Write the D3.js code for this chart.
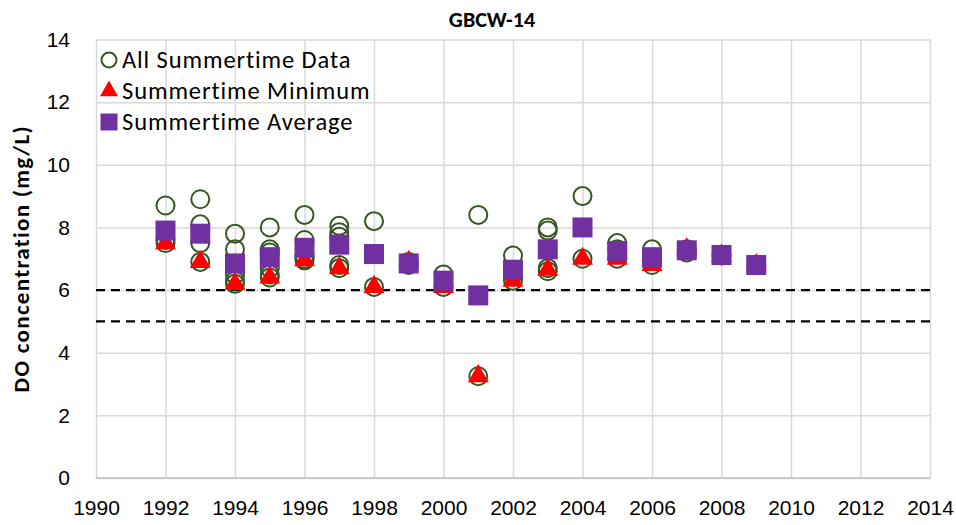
<!DOCTYPE html>
<html>
<head>
<meta charset="utf-8">
<script src="https://cdn.jsdelivr.net/npm/d3@7"></script>
<style>
  body { margin: 0; background: #fff; }
  svg { display: block; font-family: Carlito, Calibri, Lato, sans-serif; }
</style>
</head>
<body>
<svg width="956" height="525"></svg>
<script>
// data
var years = [1992, 1993, 1994, 1995, 1996, 1997, 1998, 1999, 2000, 2001, 2002, 2003, 2004, 2005, 2006, 2007, 2008, 2009];
var allData = [
    [8.7, 7.6, 7.5],
    [8.9, 8.1, 7.5, 6.9],
    [7.8, 7.3, 6.5, 6.3, 6.2],
    [8.0, 7.3, 7.2, 6.7, 6.5, 6.4],
    [8.4, 7.6, 7.1, 7.0, 6.95],
    [8.05, 7.85, 7.7, 6.8, 6.7],
    [8.2, 6.1],
    [6.9, 6.8],
    [6.5, 6.1],
    [8.4, 3.25],
    [7.1, 6.5, 6.3],
    [8.0, 7.9, 6.7, 6.6],
    [9.0, 7.0],
    [7.5, 7.3, 7.0],
    [7.3, 6.8],
    [7.3, 7.2],
    [7.1],
    [6.8]
];
var minValues = [7.5, 6.9, 6.2, 6.4, 6.95, 6.7, 6.1, 6.9, 6.1, 3.25, 6.3, 6.65, 7.0, 7.0, 6.8, 7.3, 7.1, 6.8];
var avgValues = [7.9, 7.8, 6.85, 7.05, 7.35, 7.45, 7.15, 6.85, 6.3, 5.83, 6.65, 7.3, 8.0, 7.25, 7.05, 7.27, 7.12, 6.8];
var xTicks = [1990, 1992, 1994, 1996, 1998, 2000, 2002, 2004, 2006, 2008, 2010, 2012, 2014];
var yTicks = [0, 2, 4, 6, 8, 10, 12, 14];
var refLines = [6, 5];
var seriesNames = ['All Summertime Data', 'Summertime Minimum', 'Summertime Average'];

var svg = d3.select('svg');
var margin = {t: 39.5, l: 96, r: 26, b: 47};
var width = 956 - margin.l - margin.r;
var height = 525 - margin.t - margin.b;

var x = d3.scaleLinear().domain([1990, 2014]).range([0, width]);
var y = d3.scaleLinear().domain([0, 14]).range([height, 0]);

var g = svg.append('g').attr('transform', 'translate(' + margin.l + ',' + margin.t + ')');

// gridlines
g.append('g')
    .call(d3.axisBottom(x).tickValues(xTicks).tickSize(height).tickFormat(''))
    .call(a => a.select('.domain').remove())
    .selectAll('line').attr('stroke', '#d9d9d9').attr('stroke-width', 1.5);
g.append('g')
    .call(d3.axisLeft(y).tickValues(yTicks).tickSize(-width).tickFormat(''))
    .call(a => a.select('.domain').remove())
    .selectAll('line').attr('stroke', '#d9d9d9').attr('stroke-width', 1.5);

// tick labels
g.append('g')
    .attr('transform', 'translate(0,' + height + ')')
    .call(d3.axisBottom(x).tickValues(xTicks).tickSize(0).tickPadding(22).tickFormat(d3.format('d')))
    .call(a => a.select('.domain').remove())
    .selectAll('text').attr('font-size', 21).attr('fill', '#000').attr('font-family', null);
g.append('g')
    .call(d3.axisLeft(y).tickValues(yTicks).tickSize(0).tickPadding(26))
    .call(a => a.select('.domain').remove())
    .selectAll('text').attr('font-size', 21).attr('fill', '#000').attr('font-family', null);

// bottom axis line
g.append('line')
    .attr('x1', 0).attr('x2', width)
    .attr('y1', height).attr('y2', height)
    .attr('stroke', '#bfbfbf').attr('stroke-width', 1.5);

// reference dashed lines
g.selectAll('.ref')
    .data(refLines)
    .enter().append('line')
    .attr('class', 'ref')
    .attr('x1', 0).attr('x2', width)
    .attr('y1', d => y(d)).attr('y2', d => y(d))
    .attr('stroke', '#000').attr('stroke-width', 2.2)
    .attr('stroke-dasharray', '9,6');

// all summertime data points
var pts = [];
years.forEach((yr, i) => allData[i].forEach(v => pts.push({year: yr, v: v})));
g.selectAll('.pt')
    .data(pts)
    .enter().append('circle')
    .attr('class', 'pt')
    .attr('cx', d => x(d.year))
    .attr('cy', d => y(d.v))
    .attr('r', 9)
    .attr('fill', 'none')
    .attr('stroke', '#375623')
    .attr('stroke-width', 2);

// minimum
var tri = d3.symbol().type(d3.symbolTriangle).size(190);
g.selectAll('.min')
    .data(years)
    .enter().append('path')
    .attr('class', 'min')
    .attr('d', tri)
    .attr('transform', (d, i) => 'translate(' + x(d) + ',' + y(minValues[i]) + ')')
    .attr('fill', '#ff0000');

// average
var sq = 20;
g.selectAll('.avg')
    .data(years)
    .enter().append('rect')
    .attr('class', 'avg')
    .attr('x', d => x(d) - sq / 2)
    .attr('y', (d, i) => y(avgValues[i]) - sq / 2)
    .attr('width', sq).attr('height', sq)
    .attr('fill', '#7030a0');

// legend
var legend = svg.append('g').attr('transform', 'translate(109,60)');
var items = legend.selectAll('g')
    .data(seriesNames)
    .enter().append('g')
    .attr('transform', (d, i) => 'translate(0,' + (i * 31) + ')');
items.append('text')
    .attr('x', 13)
    .attr('y', 8)
    .attr('font-size', 24.5)
    .attr('letter-spacing', 0.9)
    .text(d => d);
items.filter((d, i) => i === 0).append('circle')
    .attr('r', 7.5).attr('fill', 'none').attr('stroke', '#375623').attr('stroke-width', 2);
items.filter((d, i) => i === 1).append('path')
    .attr('d', d3.symbol().type(d3.symbolTriangle).size(140))
    .attr('fill', '#ff0000');
items.filter((d, i) => i === 2).append('rect')
    .attr('x', -8.5).attr('y', -8.5).attr('width', 17).attr('height', 17)
    .attr('fill', '#7030a0');

// title
svg.append('text')
    .attr('x', 492).attr('y', 27)
    .attr('text-anchor', 'middle')
    .attr('font-size', 22)
    .attr('font-weight', 'bold')
    .text('GBCW-14');

// y axis label
svg.append('text')
    .attr('transform', 'translate(29,' + (margin.t + height / 2) + ') rotate(-90)')
    .attr('text-anchor', 'middle')
    .attr('font-size', 23)
    .attr('letter-spacing', 1.3)
    .attr('font-weight', 'bold')
    .text('DO concentration (mg/L)');
</script>
</body>
</html>
